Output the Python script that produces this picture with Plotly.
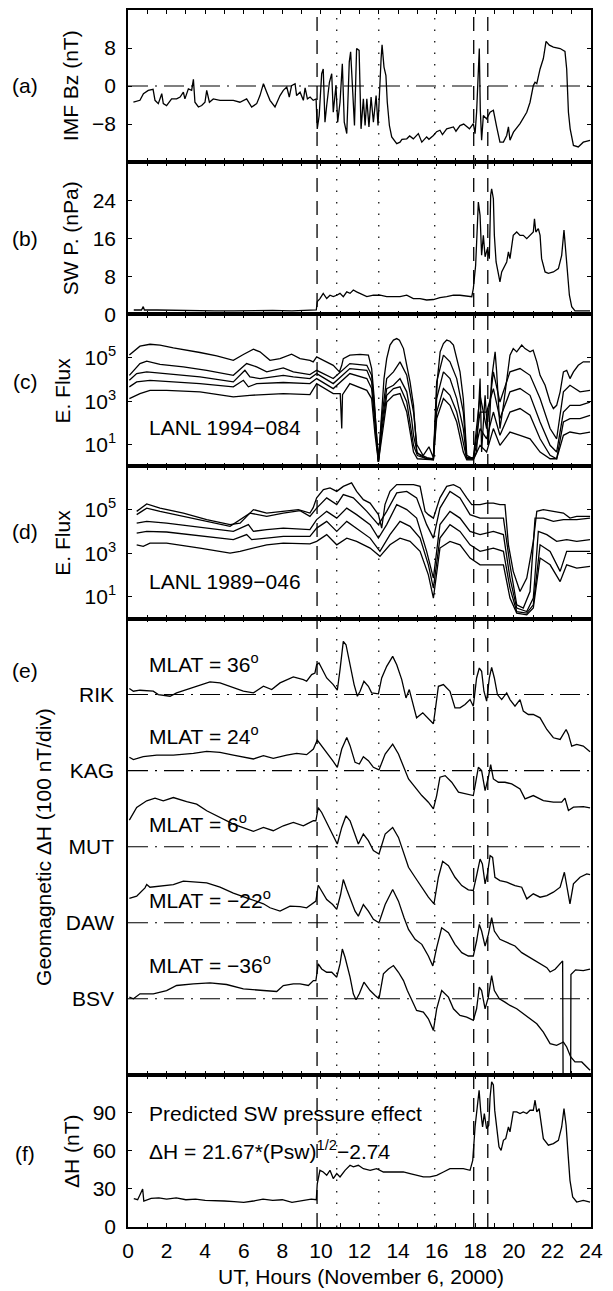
import plotly.graph_objects as go
from plotly.subplots import make_subplots

# ------------------------- data -------------------------
# (a) IMF Bz (nT)
bz_hours = [0.28, 0.62, 0.8, 1.05, 1.3, 1.4, 1.57, 1.75, 1.83, 2.0, 2.26, 2.52, 2.7, 2.87, 2.95, 3.13, 3.3, 3.39,
            3.47, 3.65, 3.82, 3.99, 4.08, 4.22, 4.42, 4.77, 5.11, 5.46, 5.8, 6.15, 6.41, 6.67, 6.84, 7.02, 7.19,
            7.36, 7.62, 7.88, 8.05, 8.23, 8.36, 8.48, 8.66, 8.74, 8.92, 9.09, 9.18, 9.3, 9.44, 9.6, 9.75, 9.81,
            9.91, 10.04, 10.12, 10.21, 10.3, 10.44, 10.56, 10.64, 10.78, 10.87, 10.99, 11.11, 11.21, 11.34, 11.47,
            11.54, 11.65, 11.74, 11.85, 11.98, 12.08, 12.2, 12.29, 12.38, 12.49, 12.6, 12.72, 12.86, 12.96, 13.03,
            13.12, 13.17, 13.27, 13.37, 13.44, 13.55, 13.67, 13.93, 14.1, 14.2, 14.45, 14.6, 14.79, 15.05, 15.23,
            15.48, 15.6, 15.83, 16.0, 16.17, 16.3, 16.52, 16.7, 16.87, 17.0, 17.21, 17.4, 17.56, 17.7, 17.9, 17.99,
            18.07, 18.14, 18.21, 18.26, 18.33, 18.42, 18.59, 18.77, 18.94, 19.11, 19.28, 19.46, 19.63, 19.72, 19.8,
            19.98, 20.32, 20.67, 20.84, 21.01, 21.1, 21.19, 21.36, 21.53, 21.67, 21.84, 22.05, 22.4, 22.65, 22.74,
            22.83, 22.92, 23.09, 23.34, 23.6, 23.95]
bz_nT = [-3.4, -3.0, -1.6, -0.9, -0.7, -3.0, -3.7, -1.6, -3.7, -4.1, -2.7, -2.7, -2.3, -1.3, -2.7, -0.6, -0.9, 1.4,
         -3.4, -4.4, -4.1, -3.4, -0.9, -3.4, -2.7, -3.0, -3.0, -3.0, -3.4, -2.7, -4.4, -3.7, -2.0, 0.5, -1.3,
         -3.0, -4.4, -2.0, -0.9, -0.2, -2.3, 0.1, 0.5, -2.0, -1.3, -3.0, -0.4, -2.7, -2.3, -3.0, -2.7, -9.0,
         -6.2, 2.6, 3.6, -7.6, -4.1, 0.8, 2.6, -5.5, 0.1, -7.6, -3.4, 4.7, -7.6, -10.0, 5.1,
         7.2, -1.3, -8.3, 7.9, 7.5, -9.0, -2.7, -8.3, -2.7, -8.6, -2.3, -7.6, -2.0, -8.3, -0.6,
         5.8, 8.7, 4.0, 2.2, -3.4, -8.3, -10.7, -12.1, -11.8, -11.2, -11.1, -10.5, -11.1, -10.0, -11.8,
         -10.7, -11.2, -10.4, -9.6, -9.3, -10.2, -9.0, -8.8, -8.6, -9.5, -8.3, -8.0, -8.6, -9.0, -7.9, -10.0,
         -5.5, 3.6, 7.9, -4.8, -11.4, -6.2, -6.9, -5.5, -5.1, -8.6, -11.8, -11.8, -10.4, -8.6, -11.4,
         -9.7, -7.9, -5.5, -3.4, 0.1, 0.8, 0.5, 3.6, 5.8, 9.4, 8.6, 8.2, 7.9, 7.3, 3.6,
         -5.5, -9.0, -12.5, -12.8, -11.8, -11.4]

# (b) solar wind dynamic pressure (nPa)
psw_hours = [0.3, 0.7, 0.79, 0.85, 1.5, 2.5, 3.5, 4.5, 5.5, 6.5, 7.5, 8.5, 9.3, 9.76, 9.81, 9.95, 10.12, 10.3, 10.47,
             10.64, 10.82, 10.99, 11.16, 11.34, 11.51, 11.68, 11.85, 12.03, 12.2, 12.38, 12.72, 13.07, 13.41,
             13.76, 14.1, 14.45, 14.79, 15.14, 15.48, 15.83, 16.17, 16.52, 16.87, 17.21, 17.56, 17.82, 17.9,
             18.02, 18.11, 18.16, 18.25, 18.33, 18.42, 18.51, 18.63, 18.73, 18.8, 18.85, 18.94, 18.99, 19.08,
             19.2, 19.28, 19.37, 19.49, 19.63, 19.72, 19.8, 19.97, 20.15, 20.32, 20.49, 20.67, 20.84, 21.01,
             21.07, 21.14, 21.27, 21.36, 21.44, 21.62, 21.79, 22.05, 22.31, 22.48, 22.6, 22.69, 22.79, 22.88,
             23.0, 23.17, 23.6, 23.95]
psw_nPa = [0.9, 0.9, 1.6, 0.9, 0.9, 0.8, 0.8, 0.7, 0.7, 0.8, 0.8, 0.7, 0.8, 0.9, 2.65, 3.3, 4.4, 3.3, 4.0,
           3.7, 4.0, 4.4, 3.7, 4.7, 4.4, 5.1, 4.7, 4.4, 4.0, 3.7, 4.0, 4.0, 3.7,
           3.7, 3.7, 4.0, 3.3, 3.3, 3.0, 3.1, 3.5, 3.7, 4.0, 4.0, 3.9, 3.7, 5.4,
           10.3, 18.7, 23.6, 20.8, 12.4, 16.6, 12.1, 13.8, 11.7, 25.0, 26.4, 24.3, 16.6, 11.0,
           8.2, 6.8, 8.9, 10.0, 11.0, 13.1, 11.7, 16.6, 17.3, 16.6, 16.6, 15.9, 16.6, 17.3,
           20.1, 17.3, 18.0, 16.6, 11.7, 8.9, 8.6, 8.9, 9.6, 12.4, 17.7, 13.1, 7.5, 4.0,
           1.6, 0.7, 0.7, 0.7]

# (c) LANL 1994-084 electron flux, five energy channels (log10 of flux)
l94_h1 = [0.07, 0.62, 1.14, 1.66, 2.35, 3.04, 3.73, 4.6, 5.46, 5.98, 6.5, 6.84, 7.36, 7.88, 8.48, 8.92, 9.43, 9.6,
          9.78, 10.13, 10.64, 10.96, 11.08, 11.16, 11.5, 12.03, 12.46, 12.63, 12.75, 12.86, 12.98, 13.06, 13.15,
          13.27, 13.41, 13.58, 13.76, 13.93, 14.07, 14.28, 14.45, 14.62, 14.8, 14.88, 14.97, 15.14, 15.49, 15.83,
          15.92, 16.04, 16.18, 16.35, 16.52, 16.69, 16.87, 17.04, 17.21, 17.38, 17.47, 17.56, 17.9, 18.07, 18.25,
          18.33, 18.51, 18.68, 18.85, 19.03, 19.11, 19.28, 19.46, 19.63, 19.8, 19.97, 20.15, 20.41, 20.58, 20.84,
          21.0, 21.19, 21.36, 21.62, 21.88, 22.05, 22.22, 22.4, 22.57, 22.74, 22.91, 23.09, 23.34, 23.6, 23.95]
l94_f1 = [5.12, 5.53, 5.62, 5.58, 5.45, 5.35, 5.24, 5.08, 4.88, 5.15, 5.39, 5.27, 4.88, 4.96, 5.16, 4.96, 4.88, 4.81,
          5.04, 4.88, 4.65, 4.35, 4.65, 4.96, 5.12, 5.15, 5.12, 4.5, 3.27, 1.74, 0.2, 1.27, 2.5,
          4.04, 4.96, 5.58, 5.81, 5.88, 5.81, 5.42, 4.65, 3.89, 2.81, 1.58, 0.66, 0.51, 0.35, 0.35,
          1.74, 4.04, 5.27, 5.65, 5.81, 5.76, 5.58, 4.96, 4.35, 3.12, 1.74, 0.51, 0.35, 0.66, 4.04,
          0.66, 3.27, 0.97, 4.04, 5.27, 4.35, 1.74, 2.81, 4.04, 5.12, 5.42, 5.27, 5.58, 5.42, 5.27,
          5.35, 4.81, 4.19, 3.73, 2.96, 2.66, 2.81, 3.43, 4.35, 4.42, 4.04, 4.35, 4.65, 4.81, 4.81]
l94_h2 = [0.07, 0.62, 0.97, 1.66, 2.87, 4.08, 5.46, 6.15, 6.67, 7.19, 8.05, 8.57, 9.43, 9.78, 10.64, 11.5, 12.38,
          12.63, 12.8, 12.98, 13.15, 13.41, 13.76, 14.1, 14.45, 14.8, 14.97, 15.3, 15.6, 15.83, 16.0, 16.35,
          16.69, 17.04, 17.38, 17.56, 17.9, 18.25, 18.59, 18.94, 19.28, 19.8, 20.32, 20.84, 21.36, 21.88, 22.22,
          22.57, 22.91, 23.43, 23.95]
l94_f2 = [4.19, 4.73, 4.84, 4.69, 4.58, 4.42, 4.19, 4.73, 4.58, 4.35, 4.53, 4.35, 4.22, 4.42, 4.04, 4.73, 4.65,
          4.19, 2.5, 0.3, 2.2, 4.04, 4.35, 4.81, 4.19, 2.5, 1.0, 0.5, 0.9, 0.4, 3.89, 5.12,
          4.81, 4.04, 2.5, 0.4, 0.4, 3.27, 1.74, 4.35, 2.96, 4.35, 4.5, 4.19, 3.12, 1.74, 1.27,
          3.43, 3.73, 3.43, 3.5]
l94_h3 = [0.07, 0.45, 0.97, 2.0, 3.73, 5.46, 6.06, 6.32, 6.84, 8.05, 8.57, 9.43, 9.78, 10.64, 11.5, 12.38, 12.63,
          12.8, 12.98, 13.15, 13.41, 13.76, 14.1, 14.45, 14.7, 14.8, 15.0, 15.5, 15.83, 16.0, 16.35, 16.69, 17.04,
          17.38, 17.56, 17.9, 18.25, 18.59, 18.94, 19.28, 19.8, 20.32, 20.84, 21.36, 21.88, 22.22, 22.57, 22.91,
          23.43, 23.95]
l94_f3 = [3.96, 4.27, 4.35, 4.27, 4.12, 3.89, 4.42, 4.12, 4.04, 4.19, 4.12, 4.04, 4.27, 3.81, 4.5, 4.42, 3.89,
          2.2, 0.25, 1.9, 3.58, 3.73, 4.04, 3.43, 2.2, 1.43, 0.6, 0.4, 0.35, 3.12, 4.35, 4.04, 3.12,
          1.74, 0.35, 0.35, 2.5, 2.5, 3.58, 2.2, 3.43, 3.58, 3.27, 2.04, 0.97, 0.66, 2.5, 2.81,
          2.81, 2.96]
l94_h4 = [0.07, 0.45, 1.14, 2.0, 3.73, 5.46, 5.98, 6.24, 6.67, 8.05, 9.43, 9.78, 10.64, 11.5, 12.38, 12.63, 12.8,
          12.98, 13.15, 13.41, 13.76, 14.1, 14.45, 14.8, 15.0, 15.5, 15.83, 16.0, 16.35, 16.69, 17.04, 17.38,
          17.56, 17.9, 18.25, 18.59, 18.94, 19.28, 19.8, 20.32, 20.84, 21.36, 21.88, 22.22, 22.57, 22.91, 23.43,
          23.95]
l94_f4 = [3.66, 3.89, 3.96, 3.92, 3.81, 3.66, 3.96, 3.66, 3.81, 3.86, 3.81, 4.04, 3.58, 4.27, 4.04, 3.58, 2.0,
          0.2, 1.6, 3.27, 3.58, 3.66, 2.96, 0.97, 0.5, 0.35, 0.3, 2.5, 3.58, 3.27, 2.5, 1.12,
          0.35, 0.35, 1.74, 1.27, 2.5, 1.43, 2.5, 2.66, 2.35, 1.27, 0.51, 0.35, 2.04, 2.2, 2.2,
          2.35]
l94_h5 = [0.07, 0.62, 1.14, 2.0, 3.73, 5.46, 6.32, 7.19, 8.05, 9.43, 9.78, 10.64, 11.0, 11.08, 11.12, 11.5, 12.38,
          12.63, 12.8, 12.98, 13.15, 13.41, 13.76, 14.1, 14.45, 14.8, 15.0, 15.5, 15.83, 16.0, 16.35, 16.69,
          17.04, 17.38, 17.56, 17.9, 18.25, 18.59, 18.94, 19.28, 19.8, 20.32, 20.84, 21.36, 21.88, 22.22, 22.57,
          22.91, 23.43, 23.95]
l94_f5 = [3.12, 3.35, 3.5, 3.5, 3.43, 3.2, 3.27, 3.3, 3.35, 3.3, 3.81, 3.35, 3.35, 1.74, 3.3, 3.81, 3.5,
          3.12, 1.5, 0.2, 1.4, 2.96, 3.27, 3.35, 2.5, 0.66, 0.35, 0.3, 0.3, 2.2, 3.12, 2.81,
          2.04, 0.66, 0.3, 0.3, 0.97, 0.66, 1.74, 0.97, 1.58, 1.43, 1.27, 0.66, 0.35, 0.35, 1.43,
          1.58, 1.5, 1.58]

# (d) LANL 1989-046 electron flux, five energy channels (log10 of flux)
l89_h1 = [0.45, 0.97, 1.66, 2.87, 4.08, 5.29, 5.81, 6.5, 7.19, 8.05, 8.83, 9.43, 9.6, 9.78, 10.13, 10.47, 10.82,
          11.16, 11.59, 11.85, 12.2, 12.55, 12.98, 13.15, 13.32, 13.58, 13.93, 14.28, 14.8, 15.14, 15.4, 15.57,
          15.83, 16.17, 16.52, 16.87, 17.21, 17.56, 17.82, 18.25, 18.59, 18.94, 19.28, 19.54, 19.72, 19.97,
          20.32, 20.67, 21.01, 21.19, 21.53, 22.05, 22.57, 22.91, 23.26, 23.95]
l89_f1 = [4.93, 5.27, 5.08, 4.85, 4.55, 4.32, 4.39, 5.01, 4.85, 4.93, 5.01, 4.85, 5.1, 5.55, 5.93, 6.01, 5.85,
          6.08, 6.24, 5.85, 5.47, 5.31, 4.78, 4.16, 5.24, 5.85, 6.16, 6.16, 6.16, 6.08, 4.93, 4.78,
          4.62, 5.55, 6.08, 6.16, 6.01, 5.55, 5.24, 5.24, 5.31, 5.31, 5.24, 5.24, 3.39, 2.17,
          1.24, 1.86, 3.55, 4.93, 5.01, 4.93, 4.85, 4.62, 4.7, 4.7]
l89_h2 = [0.45, 0.97, 1.66, 2.87, 4.08, 5.29, 6.32, 7.19, 8.05, 8.92, 9.43, 9.78, 10.3, 10.82, 11.16, 11.68, 12.38,
          12.98, 13.41, 13.93, 14.45, 14.96, 15.48, 15.83, 16.17, 16.69, 17.21, 17.73, 18.25, 18.94, 19.46, 19.8,
          20.15, 20.49, 20.84, 21.1, 21.53, 22.05, 22.57, 23.26, 23.95]
l89_f2 = [4.78, 5.08, 4.93, 4.7, 4.47, 4.24, 4.85, 4.7, 4.85, 4.96, 4.7, 5.08, 5.55, 5.24, 5.7, 5.55, 4.93,
          4.32, 4.93, 5.78, 5.85, 5.55, 4.32, 3.7, 5.08, 5.85, 5.55, 4.78, 4.62, 4.62, 4.62, 2.47,
          0.63, 0.48, 1.24, 4.62, 4.62, 4.47, 4.55, 4.55, 4.62]
l89_h3 = [0.45, 0.97, 2.0, 3.73, 5.46, 6.24, 6.5, 7.19, 8.05, 9.43, 9.78, 10.3, 10.82, 11.34, 11.85, 12.55, 12.98,
          13.41, 13.93, 14.45, 14.96, 15.48, 15.83, 16.17, 16.69, 17.21, 17.73, 18.25, 18.94, 19.46, 19.8, 20.15,
          20.67, 21.01, 21.27, 21.71, 22.22, 22.74, 23.26, 23.95]
l89_f3 = [4.39, 4.47, 4.39, 4.19, 4.01, 4.32, 4.01, 4.09, 4.16, 4.09, 4.55, 4.93, 4.62, 5.08, 4.78, 4.32, 3.7,
          4.32, 5.24, 5.01, 4.62, 3.09, 1.86, 4.32, 4.93, 4.62, 4.01, 3.86, 4.01, 3.86, 1.86, 0.48,
          0.32, 0.94, 4.01, 3.86, 3.55, 3.63, 3.55, 3.63]
l89_h4 = [0.45, 0.97, 2.0, 3.73, 5.46, 6.15, 6.41, 7.19, 8.05, 9.43, 9.78, 10.3, 10.82, 11.34, 11.85, 12.55, 13.06,
          13.58, 14.1, 14.62, 15.14, 15.57, 15.83, 16.17, 16.69, 17.21, 17.73, 18.25, 18.94, 19.46, 19.8, 20.15,
          20.67, 21.01, 21.36, 21.88, 22.4, 22.74, 23.26, 23.95]
l89_f4 = [3.93, 4.01, 3.98, 3.82, 3.63, 3.86, 3.63, 3.7, 3.78, 3.78, 4.16, 4.47, 4.01, 4.47, 4.16, 3.7, 3.09,
          3.86, 4.47, 4.24, 3.7, 2.47, 1.4, 3.7, 4.32, 4.01, 3.39, 3.09, 3.24, 3.09, 1.4, 0.32,
          0.25, 0.63, 3.39, 3.09, 2.17, 3.09, 3.09, 3.09]
l89_h5 = [0.45, 0.79, 1.14, 2.0, 3.73, 5.29, 5.81, 7.19, 8.05, 9.43, 9.78, 10.3, 10.82, 11.34, 11.85, 12.55, 13.06,
          13.58, 14.1, 14.62, 15.14, 15.57, 15.83, 16.17, 16.69, 17.21, 17.73, 18.25, 18.94, 19.46, 19.8, 20.15,
          20.67, 21.01, 21.36, 21.88, 22.4, 22.74, 23.26, 23.95]
l89_f5 = [3.39, 3.32, 3.47, 3.47, 3.24, 3.01, 3.09, 3.39, 3.47, 3.43, 3.55, 3.86, 3.39, 3.7, 3.55, 3.24, 2.86,
          3.39, 3.7, 3.55, 3.09, 2.01, 0.94, 3.24, 3.55, 3.39, 2.78, 2.47, 2.47, 2.47, 0.94, 0.25,
          0.17, 0.48, 2.78, 2.47, 1.7, 2.47, 2.32, 2.4]

# (e) ground magnetometer Delta-H (nT, relative to each station's baseline)
stations = ["RIK", "KAG", "MUT", "DAW", "BSV"]
station_mlat = ["36", "24", "6", "\u221222", "\u221236"]
rik_hours = [0.07, 0.28, 0.62, 1.31, 1.57, 2.18, 2.52, 3.04, 3.73, 4.25, 4.77, 5.46, 5.98, 6.5, 7.02, 7.45, 7.88,
             8.57, 9.09, 9.26, 9.52, 9.69, 9.78, 9.9, 10.04, 10.3, 10.64, 10.85, 10.99, 11.16, 11.3, 11.51, 11.72,
             11.89, 12.03, 12.23, 12.46, 12.63, 12.98, 13.15, 13.41, 13.72, 13.93, 14.19, 14.41, 14.58, 14.8,
             14.96, 15.28, 15.48, 15.83, 15.92, 16.09, 16.35, 16.69, 16.95, 17.21, 17.47, 17.73, 17.9, 18.07,
             18.21, 18.33, 18.45, 18.59, 18.73, 18.85, 18.99, 19.15, 19.37, 19.63, 19.8, 20.06, 20.32, 20.49,
             20.75, 21.01, 21.36, 21.71, 22.05, 22.4, 22.71, 22.83, 23.0, 23.26, 23.6, 23.95]
rik_dH = [7.9, 4.4, 5.7, 4.4, 0, -2.2, 2.2, 6.6, 12.2, 16.6, 15.3, 8.7, 4.4, 2.2, 10.9, 6.6, 15.3,
          23.1, 19.7, 17.5, 26.2, 28.4, 39.3, 41.5, 34.9, 21.8, 13.1, 5.7, 32.8, 69.9, 65.5, 39.3, 13.1,
          -2.2, 4.4, 17.5, 10.9, 2.2, 0.9, 21.8, 37.1, 50.2, 39.3, 19.7, -4.4, 6.6, -15.3,
          -30.6, -24.0, -29.7, -38.4, -21.8, 10.9, 13.1, 4.4, -17.5, -17.5, -13.1, -6.6, -15.3, 21.8,
          34.9, 30.6, 4.4, -8.7, 21.8, 35.8, 21.8, 0, -6.6, 2.2, -6.6, -15.3, -6.6, -21.8,
          -26.2, -26.2, -30.6, -45.9, -56.8, -59.0, -45.9, -52.4, -67.7, -65.5, -67.7, -75.1]
kag_hours = [0.07, 0.28, 0.79, 1.49, 2.35, 3.39, 4.08, 4.77, 5.46, 6.5, 7.02, 7.53, 8.23, 8.74, 9.26, 9.61, 9.81,
             10.04, 10.3, 10.61, 10.85, 11.08, 11.34, 11.51, 11.77, 11.99, 12.2, 12.46, 12.72, 13.01, 13.33, 13.72,
             14.02, 14.28, 14.54, 14.88, 15.23, 15.57, 15.83, 16.0, 16.17, 16.44, 16.78, 17.13, 17.47, 17.9,
             18.04, 18.16, 18.33, 18.51, 18.68, 18.8, 18.94, 19.2, 19.54, 19.89, 20.32, 20.58, 21.01, 21.53,
             22.05, 22.48, 22.65, 22.83, 23.09, 23.6, 23.95]
kag_dH = [17.5, 14.4, 18.3, 20.5, 20.5, 22.7, 25.3, 24.0, 20.5, 15.3, 19.7, 16.2, 20.5, 22.7, 21.0, 28.4, 40.2,
          32.8, 24.0, 13.1, 4.4, 28.4, 43.7, 32.8, 10.9, 8.7, 18.3, 13.1, 4.4, 0.9, 21.8, 34.9,
          21.8, 4.4, -10.9, -21.8, -32.8, -41.5, -50.2, -32.8, -8.7, -6.6, -15.3, -28.4, -30.6, -32.8,
          -13.1, 4.4, 0, -26.2, -8.7, 7.9, -10.9, -15.3, -15.3, -17.5, -24.0, -37.1, -32.8, -39.3,
          -41.5, -41.5, -36.2, -52.4, -48.0, -47.2, -48.9]
mut_hours = [0.07, 0.45, 0.97, 1.4, 1.83, 2.35, 3.04, 3.56, 4.08, 4.77, 5.46, 6.5, 7.02, 7.53, 8.05, 8.57, 9.09,
             9.26, 9.61, 9.74, 9.86, 10.04, 10.3, 10.61, 10.85, 11.08, 11.3, 11.51, 11.77, 11.94, 12.2, 12.46,
             12.72, 13.01, 13.33, 13.72, 14.02, 14.31, 14.54, 14.88, 15.31, 15.57, 15.86, 16.09, 16.31, 16.61,
             16.95, 17.3, 17.64, 17.9, 18.07, 18.25, 18.37, 18.51, 18.63, 18.77, 18.9, 19.02, 19.28, 19.63,
             20.06, 20.41, 20.67, 21.01, 21.36, 21.71, 22.05, 22.4, 22.62, 22.74, 22.91, 23.09, 23.43, 23.78, 23.95]
mut_dH = [34.9, 51.5, 60.3, 63.8, 60.3, 64.6, 59.4, 55.9, 47.2, 38.4, 29.7, 20.1, 25.3, 21.0, 27.5, 31.9, 27.5,
          29.7, 34.1, 34.1, 51.5, 45.0, 31.9, 16.6, 3.5, 25.3, 40.6, 34.1, 14.4, 3.5, 16.6, 7.9,
          -5.2, -9.6, 16.6, 25.3, 12.2, -9.6, -27.1, -40.2, -57.6, -66.4, -75.1, -40.2, -19.2, -24.9,
          -40.2, -51.1, -56.8, -57.6, -38.0, -16.2, -22.7, -48.9, -35.8, -11.8, -14.0, -40.2, -44.5, -46.7,
          -51.1, -53.3, -68.6, -62.0, -66.4, -64.2, -59.8, -53.3, -33.6, -48.9, -75.1, -48.9, -40.2, -35.8, -36.7]
daw_hours = [0.07, 0.45, 0.88, 0.97, 1.14, 1.66, 2.35, 2.87, 3.39, 4.08, 4.77, 5.46, 6.15, 7.02, 7.36, 7.88, 8.4,
             8.92, 9.26, 9.61, 9.74, 9.86, 10.04, 10.3, 10.61, 10.82, 11.02, 11.16, 11.34, 11.51, 11.77, 11.94,
             12.2, 12.46, 12.72, 13.01, 13.33, 13.72, 14.02, 14.31, 14.54, 14.88, 15.23, 15.57, 15.8, 16.0, 16.26,
             16.61, 16.95, 17.3, 17.64, 17.9, 18.07, 18.21, 18.33, 18.51, 18.68, 18.85, 18.99, 19.28, 19.63,
             20.06, 20.41, 20.84, 21.36, 21.71, 21.88, 22.14, 22.53, 22.56, 22.94, 22.96, 23.2, 23.6, 23.95]
daw_dH = [31.9, 34.9, 45.9, 50.2, 46.7, 48.0, 50.2, 54.6, 53.7, 52.4, 46.7, 38.9, 32.8, 24.9, 19.7, 15.3, 21.8,
          21.2, 19.7, 26.2, 28.4, 49.3, 41.5, 30.6, 24.0, 17.5, 37.1, 56.8, 43.7, 32.8, 15.3, 8.7,
          24.0, 15.3, 4.4, 0, 24.0, 43.7, 28.4, 6.6, -8.7, -21.8, -28.4, -43.7, -56.8, -32.8, -6.6,
          -13.1, -28.4, -39.3, -43.7, -43.7, -24.0, -2.2, -10.9, -30.6, -15.3, 6.6, -10.9, -21.8, -26.2,
          -30.6, -39.3, -45.9, -54.6, -59.0, -64.7, -61.1, -50.2, -250.0, -250.0, -68.0, -62.0, -63.0, -61.0]
bsv_hours = [0.07, 0.28, 0.62, 1.31, 2.0, 2.52, 3.39, 4.25, 5.11, 5.98, 7.02, 7.71, 8.05, 8.57, 8.92, 9.35, 9.61,
             9.74, 9.86, 10.04, 10.3, 10.56, 10.82, 10.99, 11.11, 11.25, 11.51, 11.68, 11.82, 11.99, 12.23, 12.55,
             12.81, 13.01, 13.24, 13.5, 13.76, 14.02, 14.28, 14.48, 14.8, 14.96, 15.31, 15.57, 15.83, 16.0, 16.26,
             16.61, 16.87, 17.21, 17.56, 17.9, 18.07, 18.21, 18.33, 18.51, 18.68, 18.85, 18.99, 19.25, 19.54,
             19.8, 20.15, 20.49, 20.84, 21.19, 21.53, 21.88, 22.22, 22.57, 22.74, 22.95, 23.17, 23.52, 23.95]
bsv_dH = [2.2, 0, 6.6, 6.6, 10.9, 17.5, 19.7, 21.0, 18.8, 13.1, 10.9, 9.6, 17.5, 19.7, 19.7, 17.5, 24.0,
          24.0, 45.9, 39.3, 34.9, 34.9, 28.4, 45.9, 65.5, 54.6, 28.4, 6.6, -1.3, 6.6, 21.8, 10.9,
          4.4, 0, 32.8, 39.3, 43.7, 34.9, 24.0, 10.9, -6.6, -15.3, -17.5, -26.2, -41.5, -13.1, 10.9,
          2.2, -13.1, -21.8, -24.0, -28.4, -13.1, 15.3, 10.9, -13.1, 2.2, 30.6, 10.9, 0, -4.4,
          -8.7, -13.1, -19.7, -26.2, -32.8, -43.7, -59.0, -61.1, -56.8, -63.3, -76.4, -83.0, -83.0, -93.9]

# (f) predicted SW pressure effect (nT)
pred_hours = [0.3, 0.5, 0.76, 0.82, 1.2, 1.6, 2.0, 2.5, 3.0, 3.5, 4.0, 4.5, 5.0, 5.5, 6.0, 6.5, 7.0, 7.5, 8.0, 8.5,
              9.0, 9.5, 9.76, 9.81, 9.95, 10.12, 10.3, 10.47, 10.64, 10.82, 10.99, 11.25, 11.51, 11.68, 11.94,
              12.2, 12.55, 12.89, 13.24, 13.58, 13.93, 14.27, 14.62, 14.96, 15.31, 15.65, 16.0, 16.35, 16.69,
              17.04, 17.38, 17.73, 17.87, 17.99, 18.13, 18.2, 18.28, 18.38, 18.47, 18.59, 18.7, 18.77, 18.85,
              18.94, 19.01, 19.11, 19.23, 19.34, 19.46, 19.58, 19.72, 19.8, 19.97, 20.15, 20.32, 20.49, 20.67,
              20.84, 21.01, 21.1, 21.19, 21.31, 21.4, 21.53, 21.79, 22.05, 22.31, 22.48, 22.6, 22.71, 22.81,
              22.91, 23.05, 23.26, 23.6, 23.95]
pred_dH = [22.4, 21.5, 30.0, 20.5, 22.5, 23.0, 22.0, 23.0, 21.5, 22.0, 21.0, 21.0, 20.5, 20.0, 19.5, 20.5, 22.0,
           21.0, 21.5, 19.5, 21.0, 22.0, 21.5, 34.0, 44.7, 43.4, 40.8, 44.7, 38.2, 42.1, 39.5, 44.7, 48.7, 47.4,
           48.7, 46.0, 44.7, 46.0, 43.4, 43.4, 43.4, 43.4, 42.1, 40.8, 39.5, 39.5, 40.8, 43.4, 46.0,
           46.0, 46.0, 44.7, 52.6, 78.9, 100.0, 107.9, 92.0, 78.9, 89.5, 77.6, 80.3, 102.6, 114.5,
           112.0, 92.0, 76.3, 63.2, 60.5, 68.4, 69.7, 78.9, 75.0, 90.8, 90.8, 89.5, 90.8, 89.5,
           92.1, 92.1, 100.0, 90.8, 93.4, 82.9, 69.7, 64.5, 65.8, 68.4, 78.9, 93.4, 80.3, 57.9,
           36.8, 23.7, 19.7, 21.0, 19.7]

# event reference times (UT hours)
dashed_times = [9.8, 17.92, 18.65]
dotted_times = [10.82, 13.0, 15.9]

# axis tick values / labels
x_tick_values = list(range(0, 25, 2))
bz_ticks = [-8, 0, 8]
psw_ticks = [0, 8, 16, 24]
flux_ticks = [1e1, 1e3, 1e5]
flux_tick_labels = ["10<sup>1</sup>", "10<sup>3</sup>", "10<sup>5</sup>"]
pred_ticks = [0, 30, 60, 90]

# ------------------------------- figure -----------------------------------------
FONT = "Liberation Sans, Arial, Helvetica, sans-serif"
FS = 21
LW = 1.3

fig = make_subplots(rows=6, cols=1, shared_xaxes=True, vertical_spacing=0,
                    row_heights=[1, 1, 1, 1, 3, 1])


def line(x, y, row):
    fig.add_trace(go.Scatter(x=x, y=y, mode="lines", line=dict(color="black", width=LW),
                             showlegend=False, hoverinfo="skip"), row=row, col=1)


line(bz_hours, bz_nT, 1)
line(psw_hours, psw_nPa, 2)
for h, f in [(l94_h1, l94_f1), (l94_h2, l94_f2), (l94_h3, l94_f3), (l94_h4, l94_f4), (l94_h5, l94_f5)]:
    line(h, [10 ** v for v in f], 3)
for h, f in [(l89_h1, l89_f1), (l89_h2, l89_f2), (l89_h3, l89_f3), (l89_h4, l89_f4), (l89_h5, l89_f5)]:
    line(h, [10 ** v for v in f], 4)
station_series = [(rik_hours, rik_dH), (kag_hours, kag_dH), (mut_hours, mut_dH),
                  (daw_hours, daw_dH), (bsv_hours, bsv_dH)]
baselines = [500, 400, 300, 200, 100]
for (h, d), base in zip(station_series, baselines):
    line(h, [base + v for v in d], 5)
line(pred_hours, pred_dH, 6)

axis_common = dict(showline=True, linecolor="black", linewidth=1.5, mirror="ticks",
                   ticks="inside", ticklen=4, tickwidth=1, tickcolor="black",
                   showgrid=False, zeroline=False,
                   tickfont=dict(family=FONT, size=FS, color="black"))

for r in range(1, 7):
    fig.update_xaxes(range=[0, 24], tickvals=x_tick_values,
                     minor=dict(dtick=1, tick0=0, ticks="inside", ticklen=4, tickwidth=1,
                                tickcolor="black", showgrid=False),
                     showticklabels=(r == 6), ticklabelstandoff=4, row=r, col=1, **axis_common)

fig.update_yaxes(range=[-16, 16], tickvals=bz_ticks, row=1, col=1, ticklabelstandoff=6, **axis_common)
fig.update_yaxes(range=[0, 32], tickvals=psw_ticks, row=2, col=1, ticklabelstandoff=6, **axis_common)
fig.update_yaxes(type="log", range=[0, 7], tickvals=flux_ticks, ticktext=flux_tick_labels,
                 row=3, col=1, ticklabelstandoff=6, **axis_common)
fig.update_yaxes(type="log", range=[0, 7], tickvals=flux_ticks, ticktext=flux_tick_labels,
                 row=4, col=1, ticklabelstandoff=6, **axis_common)
ax5 = dict(axis_common)
ax5.update(ticks="", mirror=True)
fig.update_yaxes(range=[0, 600], tickvals=baselines, ticktext=stations, row=5, col=1,
                 ticklabelstandoff=8, **ax5)
fig.update_yaxes(range=[0, 120], tickvals=pred_ticks, row=6, col=1, ticklabelstandoff=6, **axis_common)

shapes = []
DASHDOT = "20px,7px,2px,7px"
shapes.append(dict(type="line", xref="x", yref="y", x0=0, x1=24, y0=0, y1=0,
                   line=dict(color="black", width=1.1, dash=DASHDOT), layer="below"))
for base in baselines:
    shapes.append(dict(type="line", xref="x5", yref="y5", x0=0, x1=24, y0=base, y1=base,
                       line=dict(color="black", width=1.1, dash=DASHDOT), layer="below"))
for t in dashed_times:
    shapes.append(dict(type="line", xref="x6", yref="paper", x0=t, x1=t, y0=0, y1=1,
                       line=dict(color="black", width=1.3, dash="14px,9px"), layer="below"))
for t in dotted_times:
    shapes.append(dict(type="line", xref="x6", yref="paper", x0=t, x1=t, y0=0, y1=1,
                       line=dict(color="black", width=1.2, dash="1.5px,10px"), layer="below"))

tf = dict(family=FONT, size=FS, color="black")
ann = []
# panel letters
for lab, yp in zip(["(a)", "(b)", "(c)", "(d)", "(e)", "(f)"],
                   [0.9377, 0.8122, 0.6948, 0.5718, 0.4569, 0.0607]):
    ann.append(dict(text=lab, xref="paper", yref="paper", x=-0.222, y=yp, xanchor="center",
                    yanchor="middle", showarrow=False, font=tf))
# axis titles (rotated)
for lab, xp, yp in [("IMF Bz (nT)", -0.125, 0.9375), ("SW P. (nPa)", -0.125, 0.8125),
                    ("E. Flux", -0.142, 0.6875), ("E. Flux", -0.142, 0.5625),
                    ("Geomagnetic \u0394H (100 nT/div)", -0.183, 0.3125), ("\u0394H (nT)", -0.121, 0.0625)]:
    ann.append(dict(text=lab, xref="paper", yref="paper", x=xp, y=yp, xanchor="center",
                    yanchor="middle", textangle=-90, showarrow=False, font=tf))
ann.append(dict(text="UT, Hours (November 6, 2000)", xref="paper", yref="paper", x=0.503, y=-0.041,
                xanchor="center", yanchor="middle", showarrow=False, font=tf))
# in-panel labels
ann.append(dict(text="LANL 1994\u2212084", xref="x3", yref="y3", x=1.0, y=1.81, xanchor="left",
                yanchor="middle", showarrow=False, font=tf))
ann.append(dict(text="LANL 1989\u2212046", xref="x4", yref="y4", x=1.0, y=1.7, xanchor="left",
                yanchor="middle", showarrow=False, font=tf))
for mlat, ypos in zip(station_mlat, [541, 447, 331, 231, 146]):
    ann.append(dict(text="MLAT = " + mlat + "<sup>o</sup>", xref="x5", yref="y5", x=1.0, y=ypos,
                    xanchor="left", yanchor="middle", showarrow=False, font=tf))
ann.append(dict(text="Predicted SW pressure effect", xref="x6", yref="y6", x=1.0, y=89.7,
                xanchor="left", yanchor="middle", showarrow=False, font=tf))
ann.append(dict(text="\u0394H = 21.67*(Psw)<sup>1/2</sup>\u22122.74", xref="x6", yref="y6", x=1.0, y=61,
                xanchor="left", yanchor="middle", showarrow=False, font=tf))

fig.update_layout(width=613, height=1291, margin=dict(l=128, r=22, t=8, b=64),
                  paper_bgcolor="white", plot_bgcolor="white", shapes=shapes, annotations=ann,
                  font=tf, showlegend=False)

fig.write_html("out.html", config={"displayModeBar": False},
               post_script="document.body.style.margin='0';document.body.style.overflow='hidden';")
